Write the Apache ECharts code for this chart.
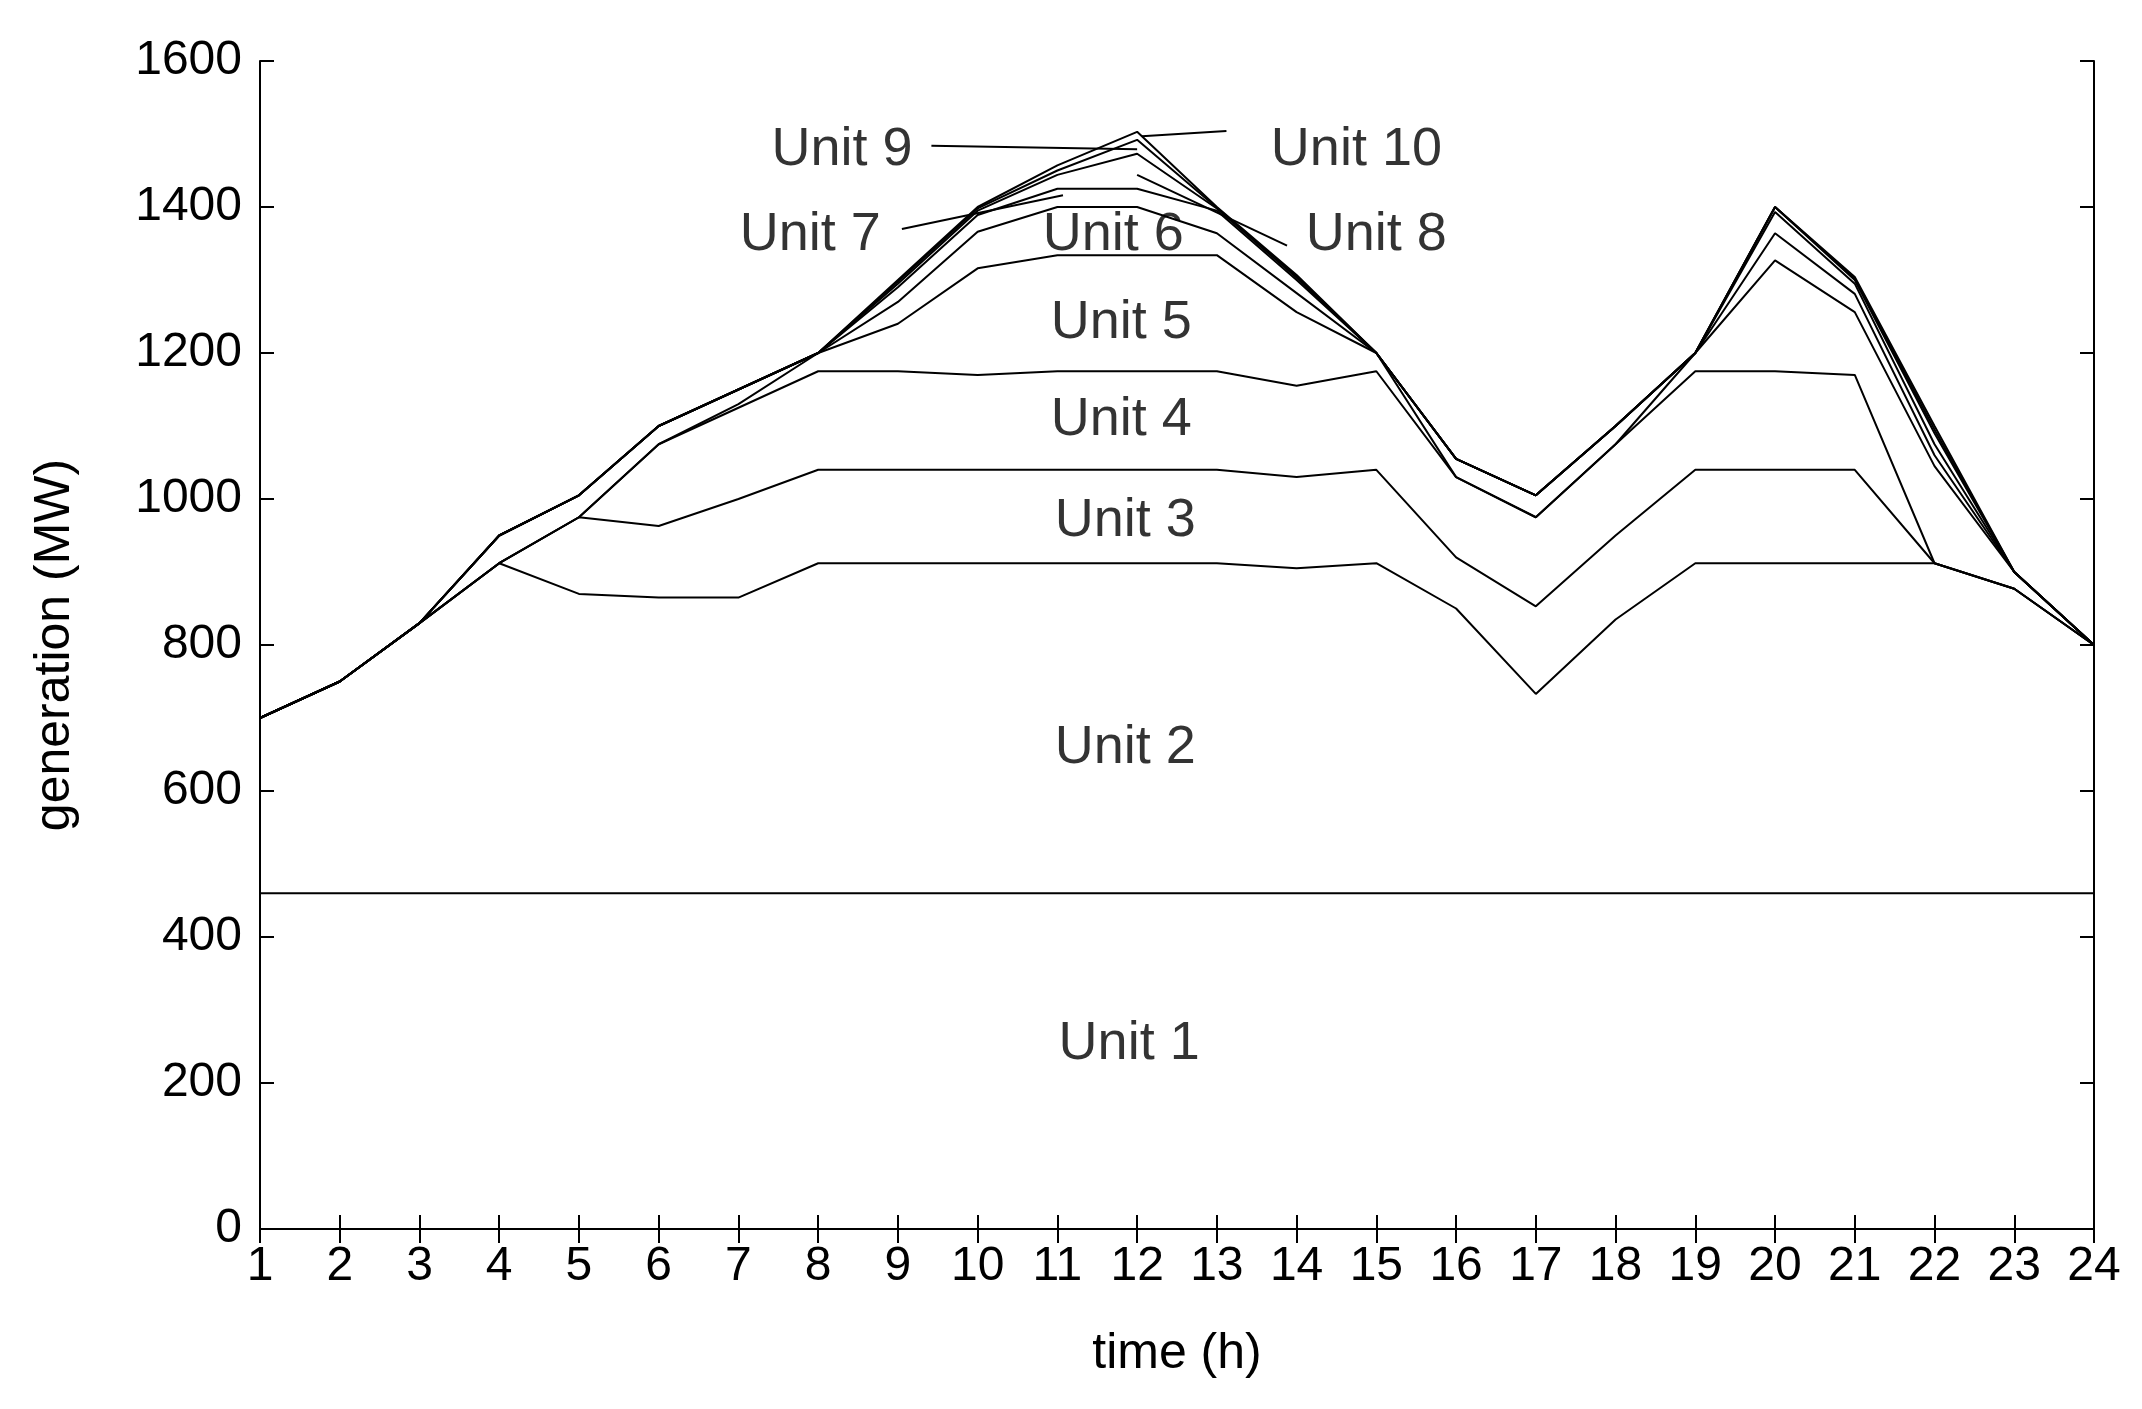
<!DOCTYPE html>
<html><head><meta charset="utf-8">
<script src="https://cdn.jsdelivr.net/npm/echarts@6/dist/echarts.min.js"></script>
<style>html,body{margin:0;background:#fff}#c{width:2142px;height:1409px}</style>
</head><body><div id="c"></div>
<script>
const hours = [1,2,3,4,5,6,7,8,9,10,11,12,13,14,15,16,17,18,19,20,21,22,23,24];
// cumulative generation (top of each unit's band), MW
const top1  = [460,460,460,460,460,460,460,460,460,460,460,460,460,460,460,460,460,460,460,460,460,460,460,460];
const top2  = [700,750,830,912,870,865,865,912,912,912,912,912,912,905,912,850,733,835,912,912,912,912,877,800];
const top3  = [700,750,830,912,975,963,1000,1040,1040,1040,1040,1040,1040,1030,1040,920,853,950,1040,1040,1040,912,877,800];
const top4  = [700,750,830,912,975,1075,1125,1175,1175,1170,1175,1175,1175,1155,1175,1030,975,1075,1175,1175,1170,912,877,800];
const top5  = [700,750,830,912,975,1075,1130,1200,1240,1316,1334,1334,1334,1256,1200,1030,975,1075,1200,1327,1256,1045,900,800];
const top6  = [700,750,830,950,1005,1100,1150,1200,1270,1366,1400,1400,1364,1282,1200,1055,1005,1100,1200,1364,1281,1060,900,800];
const top7  = [700,750,830,950,1005,1100,1150,1200,1290,1389,1425,1425,1395,1300,1200,1055,1005,1100,1200,1393,1295,1075,900,800];
const top8  = [700,750,830,950,1005,1100,1150,1200,1295,1395,1444,1473,1398,1303,1200,1055,1005,1100,1200,1400,1300,1090,900,800];
const top9  = [700,750,830,950,1005,1100,1150,1200,1298,1398,1450,1492,1399,1305,1200,1055,1005,1100,1200,1400,1302,1095,900,800];
const top10 = [700,750,830,950,1005,1100,1150,1200,1300,1400,1457,1503,1400,1307,1200,1055,1005,1100,1200,1400,1304,1100,900,800];
const labelNames = ['Unit 1','Unit 2','Unit 3','Unit 4','Unit 5','Unit 6','Unit 7','Unit 8','Unit 9','Unit 10'];
const labelX = [11.9,11.85,11.85,11.8,11.8,11.7,7.9,15.0,8.3,14.75];
const labelY = [253,659,970,1108,1241,1362,1362,1362,1478,1478];
const leader7 = [[9.05,1370],[11.07,1416]];
const leader8 = [[12.0,1444],[13.88,1347]];
const leader9 = [[9.42,1484],[12.0,1479]];
const leader10 = [[12.06,1497],[13.12,1504]];

const tops = [top1,top2,top3,top4,top5,top6,top7,top8,top9,top10];
const F = 'Liberation Sans, Arial, sans-serif';
const series = tops.map(t => ({type:'line', data: hours.map((h,i)=>[h,t[i]]), symbol:'none',
  lineStyle:{color:'#000',width:2}, silent:true, z:2}));
[leader7,leader8,leader9,leader10].forEach(l => series.push({type:'line', data:l, symbol:'none',
  lineStyle:{color:'#000',width:2}, silent:true}));
series.push({type:'scatter', symbolSize:0, data: labelNames.map((n,i)=>({value:[labelX[i],labelY[i]], name:n})),
  label:{show:true, position:'inside', formatter:p=>p.name, fontFamily:F, fontSize:54, color:'#000'}, silent:true, z:5});

const axisCommon = {axisLine:{show:true,lineStyle:{color:'#000',width:2}}, splitLine:{show:false}};
const chart = echarts.init(document.getElementById('c'));
chart.setOption({
  animation:false, backgroundColor:'#fff',
  grid:{left:260,right:48,top:61,bottom:180},
  xAxis:[
    Object.assign({type:'value',min:1,max:24,interval:1,name:'time (h)',nameLocation:'middle',nameGap:100,
      nameTextStyle:{fontFamily:F,fontSize:50,color:'#000'},
      axisTick:{inside:true,length:14,lineStyle:{color:'#000',width:2}},
      axisLabel:{fontFamily:F,fontSize:48,color:'#000',margin:14,formatter:v=>String(v)}},axisCommon),
    Object.assign({type:'value',min:1,max:24,interval:1,position:'top',
      axisTick:{inside:true,length:14,lineStyle:{color:'#000',width:2}},axisLabel:{show:false}},axisCommon)
  ],
  yAxis:[
    Object.assign({type:'value',min:0,max:1600,interval:200,name:'generation (MW)',nameLocation:'middle',nameGap:180,
      nameTextStyle:{fontFamily:F,fontSize:50,color:'#000'},
      axisTick:{inside:true,length:14,lineStyle:{color:'#000',width:2}},
      axisLabel:{fontFamily:F,fontSize:48,color:'#000',margin:18,formatter:v=>String(v)}},axisCommon),
    Object.assign({type:'value',min:0,max:1600,interval:200,position:'right',
      axisTick:{inside:true,length:14,lineStyle:{color:'#000',width:2}},axisLabel:{show:false}},axisCommon)
  ],
  series: series
});
</script></body></html>
